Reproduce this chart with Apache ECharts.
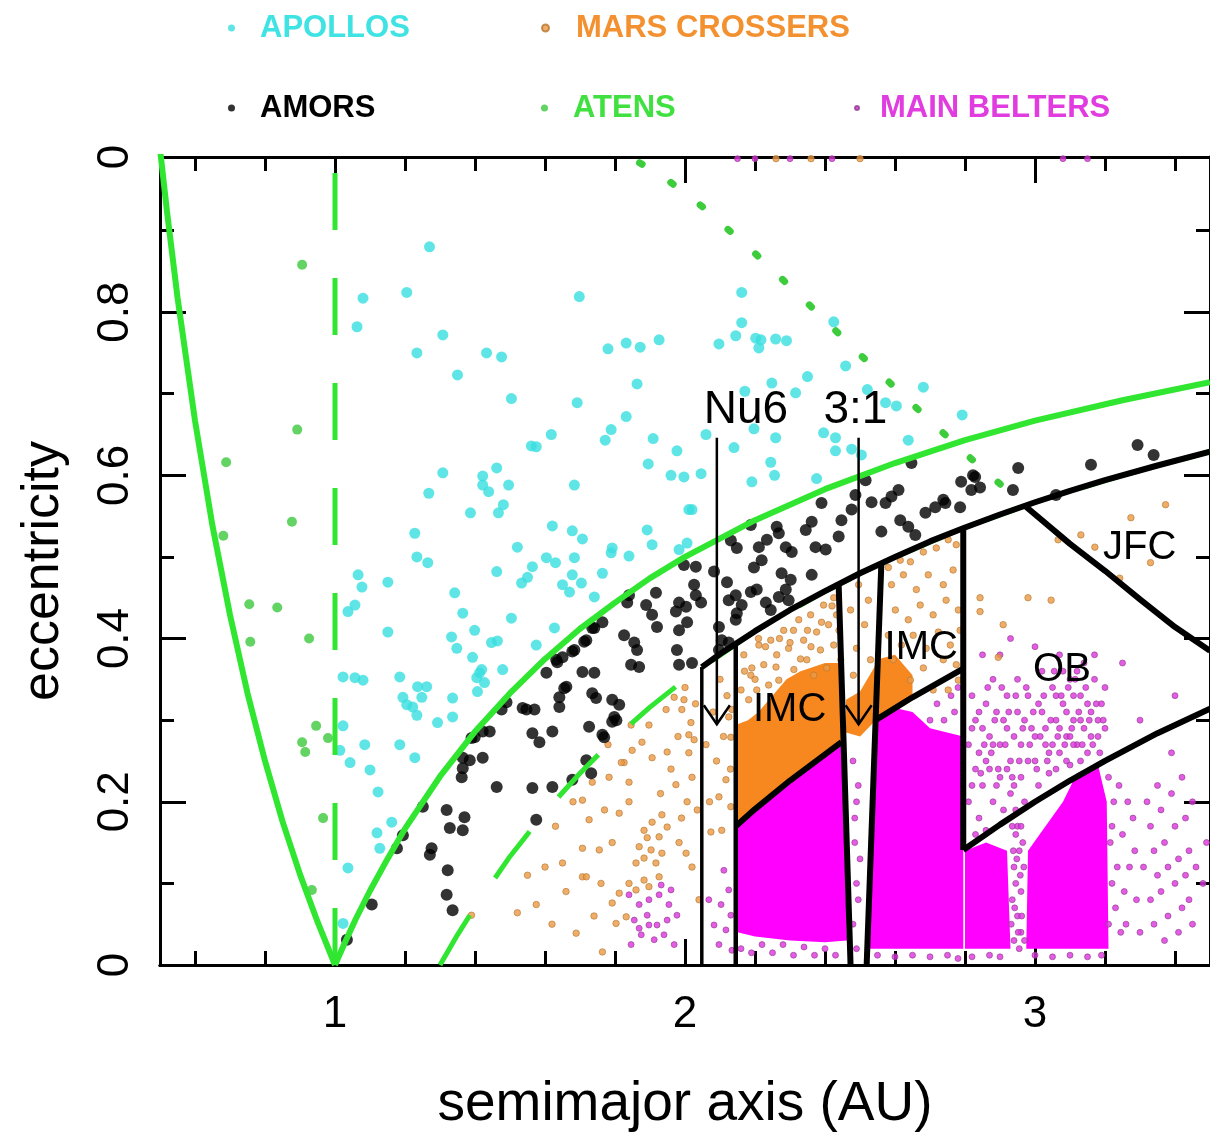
<!DOCTYPE html>
<html>
<head>
<meta charset="utf-8">
<script src="https://cdn.jsdelivr.net/npm/echarts@6/dist/echarts.min.js"></script>
<style>
  html, body { margin: 0; padding: 0; background: #fff; }
  #chart { width: 1210px; height: 1140px; }
</style>
</head>
<body>
<div id="chart"></div>
<script>
// axis ticks and labels
const xMajorTicks = [1, 2, 3]
const xMinorTicks = [0.6, 0.8, 1.2, 1.4, 1.6, 1.8, 2.2, 2.4, 2.6, 2.8, 3.2, 3.4]
const xTickLabels = ['1', '2', '3']
const yMajorTicks = [0, 0.2, 0.4, 0.6, 0.8]
const yMinorTicks = [0.1, 0.3, 0.5, 0.7, 0.9]
const yLabelValues = [0, 0.2, 0.4, 0.6, 0.8, 0.99]
const yTickLabels = ['0', '0.2', '0.4', '0.6', '0.8', '0']

// [semimajor axis, eccentricity]
const apollos = [
  [1.27,0.88],[1.08,0.817],[1.205,0.824],[1.063,0.782],[1.308,0.772],[1.234,0.75],[1.433,0.75],[1.476,0.745],[1.35,0.723],[1.698,0.819],
  [1.78,0.755],[1.832,0.762],[1.872,0.757],[1.926,0.766],[1.863,0.712],[1.504,0.694],[1.692,0.689],[1.832,0.672],[1.789,0.656],[1.772,0.643],
  [1.909,0.645],[1.977,0.63],[1.618,0.65],[1.561,0.636],[1.575,0.635],[1.308,0.603],[1.268,0.578],[1.462,0.609],[1.422,0.599],[1.422,0.588],
  [1.439,0.58],[1.496,0.588],[1.481,0.564],[1.467,0.554],[1.387,0.554],[1.684,0.588],[1.895,0.614],[1.96,0.6],[1.997,0.598],[2.02,0.558],
  [1.228,0.529],[1.621,0.538],[1.678,0.532],[1.707,0.522],[1.892,0.533],[1.906,0.515],[1.521,0.512],[1.792,0.511],[2.006,0.517],
  [2.162,0.824],[2.162,0.787],[2.145,0.771],[2.097,0.761],[2.202,0.768],[2.217,0.766],[2.211,0.756],[2.259,0.767],[2.29,0.765],[2.425,0.788],
  [2.459,0.734],[2.35,0.721],[2.248,0.713],[2.171,0.703],[2.316,0.701],[2.521,0.705],[2.681,0.708],[2.573,0.689],[2.604,0.685],[2.792,0.674],
  [2.046,0.602],[2.06,0.65],[2.14,0.634],[2.197,0.657],[2.259,0.646],[2.245,0.616],[2.256,0.6],[2.191,0.592],[2.376,0.596],[2.396,0.652],
  [2.43,0.646],[2.43,0.63],[2.476,0.632],[2.504,0.625],[2.638,0.643],[2.011,0.558],[1.789,0.505],[1.84,0.501],[1.234,0.5],[1.265,0.493],
  [1.066,0.478],[1.077,0.463],[1.057,0.441],[1.037,0.433],[1.151,0.469],[1.342,0.456],[1.365,0.431],[1.399,0.41],[1.462,0.482],[1.447,0.395],
  [1.564,0.488],[1.604,0.499],[1.63,0.493],[1.684,0.499],[1.678,0.478],[1.704,0.468],[1.65,0.466],[1.67,0.457],[1.55,0.475],[1.533,0.468],
  [1.764,0.48],[1.741,0.451],[1.504,0.425],[1.333,0.402],[1.348,0.388],[1.393,0.377],[1.419,0.362],[1.405,0.352],[1.427,0.346],[1.479,0.362],
  [1.575,0.392],[1.151,0.408],[1.023,0.353],[1.057,0.352],[1.08,0.349],[1.185,0.353],[1.194,0.328],[1.236,0.341],[1.248,0.328],[1.222,0.316],
  [1.234,0.306],[1.293,0.297],[1.336,0.327],[1.336,0.304],[1.023,0.293],[1.085,0.27],[1.185,0.27],[1.228,0.254],[1.1,0.239],[1.043,0.248],
  [1.983,0.509],[1.464,0.397],[1.627,0.413],[1.262,0.341],[1.205,0.319],[1.413,0.358],[1.407,0.335],[1.014,0.263],[1.123,0.212],[1.162,0.175],
  [1.12,0.162],[1.128,0.143],[1.037,0.119],[1.023,0.051]
]

const amors = [
  [1.034,0.031],[1.105,0.074],[1.177,0.143],[1.194,0.159],[1.251,0.194],[1.276,0.143],[1.271,0.135],[1.319,0.19],[1.328,0.168],[1.37,0.181],
  [1.365,0.165],[1.322,0.116],[1.319,0.086],[1.336,0.067],[1.362,0.23],[1.365,0.254],[1.385,0.251],[1.422,0.254],[1.39,0.278],[1.422,0.286],
  [1.442,0.286],[1.462,0.218],[1.476,0.313],[1.49,0.322],[1.547,0.313],[1.57,0.313],[1.564,0.284],[1.584,0.273],[1.621,0.286],[1.564,0.217],
  [1.621,0.218],[1.575,0.178],[1.678,0.227],[1.718,0.251],[1.726,0.292],[1.604,0.358],[1.632,0.374],[1.655,0.339],[1.641,0.328],[1.641,0.316],
  [1.678,0.384],[1.707,0.359],[1.712,0.396],[1.735,0.413],[1.741,0.358],[1.735,0.333],[1.997,0.49],[2.031,0.488],[2.083,0.482],[2.026,0.466],
  [2.031,0.453],[2.046,0.444],[1.983,0.444],[1.974,0.433],[2.006,0.42],[1.983,0.41],[1.977,0.386],[1.983,0.368],[2.02,0.37],[1.917,0.456],
  [1.889,0.441],[1.906,0.429],[1.92,0.414],[1.84,0.453],[1.835,0.444],[1.826,0.404],[1.855,0.395],[1.863,0.386],[1.846,0.368],[1.869,0.365],
  [1.764,0.42],[1.741,0.413],[1.718,0.398],[1.684,0.386],[1.65,0.377],[1.635,0.371],[1.661,0.341],[1.746,0.327],[1.792,0.325],[1.812,0.319],
  [1.798,0.304],[1.792,0.298],[1.764,0.282],[1.536,0.315],[1.399,0.279],[1.365,0.241],[1.732,0.235],[1.804,0.3],[1.769,0.279],
  [2.12,0.469],[2.131,0.52],[2.148,0.511],[2.188,0.539],[2.211,0.512],[2.234,0.521],[2.262,0.537],[2.268,0.529],[2.197,0.487],[2.219,0.496],
  [2.288,0.512],[2.305,0.506],[2.345,0.533],[2.362,0.543],[2.39,0.566],[2.373,0.512],[2.402,0.509],[2.439,0.525],[2.447,0.545],[2.476,0.558],
  [2.487,0.576],[2.516,0.594],[2.533,0.567],[2.573,0.566],[2.59,0.574],[2.61,0.582],[2.561,0.531],[2.615,0.545],[2.638,0.537],[2.658,0.527],
  [2.647,0.615],[2.687,0.554],[2.715,0.561],[2.738,0.57],[2.786,0.561],[2.789,0.592],[2.818,0.582],[2.823,0.6],[2.003,0.439],[2.125,0.447],
  [2.145,0.453],[2.162,0.441],[2.148,0.431],[2.188,0.457],[2.205,0.46],[2.231,0.444],[2.245,0.435],[2.268,0.451],[2.288,0.46],[2.302,0.472],
  [2.362,0.478],[2.276,0.48],[2.296,0.447],[2.097,0.414],[2.105,0.398],[2.145,0.423],[2.125,0.395],[2.097,0.386],
  [2.829,0.598],[2.843,0.585],[2.744,0.566],[2.952,0.609],[2.937,0.582],[3.06,0.576],[3.16,0.613],[3.293,0.637],[3.339,0.625]
]

const atens = [
  [0.689,0.616],[0.681,0.526],[0.755,0.442],[0.758,0.396],[0.835,0.438],[0.877,0.543],[0.892,0.656],[0.906,0.858],
  [0.926,0.4],[0.946,0.293],[0.906,0.273],[0.915,0.261],[0.966,0.18],[0.934,0.092],[0.98,0.278]
]

const marsCrossers = [
  [1.39,0.061],[1.521,0.064],[1.575,0.074],[1.65,0.125],[1.689,0.039],[1.707,0.108],[1.707,0.143],[1.707,0.202],[1.735,0.224],[1.726,0.178],
  [1.826,0.248],[1.849,0.263],[1.897,0.294],[1.946,0.313],[1.969,0.328],[2.017,0.297],[1.877,0.273],[1.906,0.254],[1.949,0.261],[2.011,0.26],
  [1.846,0.294],[1.991,0.313],[2.011,0.282],[1.818,0.248],[1.783,0.23],[1.84,0.224],[1.974,0.221],[2.006,0.2],[1.812,0.186],[1.84,0.2],
  [1.6,0.12],[1.63,0.17],[1.66,0.09],[1.68,0.2],[1.62,0.05],[1.74,0.06],[1.77,0.19],[1.76,0.1],[1.55,0.11],[1.78,0.27],
  [1.99,0.18],[2.02,0.23],[2.03,0.32],[1.96,0.24],[2.0,0.34],[2.035,0.19],[2.02,0.12],[2.04,0.08],[1.98,0.28],[1.93,0.21],
  [1.883,0.165],[1.934,0.184],[1.906,0.175],[1.949,0.169],[1.926,0.157],[1.892,0.156],[1.869,0.145],[1.903,0.141],[1.934,0.137],[1.883,0.131],
  [1.86,0.125],[1.917,0.125],[1.926,0.108],[1.883,0.104],[1.84,0.1],[1.812,0.088],[1.86,0.092],[1.897,0.096],[1.792,0.15],[1.755,0.141],
  [1.718,0.108],[1.832,0.059],[1.803,0.051],[1.764,0.016],[1.792,0.076],[1.983,0.15],[2.003,0.137],
  [2.105,0.165],[2.131,0.194],[2.097,0.206],[2.117,0.227],[2.074,0.163],[2.131,0.279],[2.125,0.304],[2.134,0.313],[1.997,0.325],[2.026,0.276],
  [2.07,0.2],[2.09,0.25],[2.12,0.33],[2.08,0.31],[2.11,0.28],[2.13,0.24],[2.06,0.27],[2.1,0.35],
  [2.191,0.364],[2.168,0.38],[2.188,0.355],[2.211,0.392],[2.225,0.368],[2.245,0.398],[2.262,0.38],[2.282,0.41],[2.296,0.388],[2.325,0.423],
  [2.339,0.398],[2.359,0.429],[2.376,0.408],[2.396,0.441],[2.41,0.417],[2.425,0.45],[2.433,0.429],[2.16,0.337],[2.182,0.325],[2.205,0.337],
  [2.239,0.343],[2.268,0.349],[2.311,0.362],[2.348,0.374],[2.387,0.386],[2.425,0.392],[2.445,0.374],[2.368,0.355],[2.405,0.364],
  [2.17,0.36],[2.2,0.35],[2.23,0.39],[2.27,0.4],[2.31,0.41],[2.35,0.41],[2.39,0.42],[2.42,0.44],[2.21,0.4],[2.3,0.395],[2.36,0.39],[2.44,0.41],[2.26,0.365],[2.33,0.375],
  [2.473,0.435],[2.513,0.417],[2.49,0.388],[2.53,0.374],[2.481,0.355],[2.524,0.447],[2.496,0.466],
  [2.581,0.487],[2.615,0.496],[2.644,0.494],[2.681,0.506],[2.718,0.511],[2.752,0.521],[2.775,0.515],[2.59,0.466],[2.624,0.478],[2.661,0.46],
  [2.695,0.478],[2.738,0.466],[2.766,0.484],[2.601,0.435],[2.638,0.423],[2.672,0.441],[2.709,0.429],[2.746,0.447],[2.781,0.435],[2.581,0.404],
  [2.618,0.392],[2.652,0.404],[2.689,0.388],[2.724,0.408],[2.758,0.392],[2.786,0.41],[2.595,0.374],[2.681,0.364],[2.738,0.374],[2.775,0.368],
  [2.709,0.337],[2.752,0.337],[2.781,0.349],[2.644,0.349],
  [3.131,0.527],[3.274,0.548],[3.373,0.564],[2.843,0.45],[2.843,0.433],[2.98,0.45],[3.046,0.447],[2.909,0.417],[2.895,0.377],[3.33,0.493],
  [3.242,0.474],[3.171,0.512],[3.066,0.521],
  [2.26,0.988],[2.36,0.988],[2.5,0.988]
]

const mainBelters = [
  [1.84,0.086],[1.869,0.074],[1.897,0.08],[1.926,0.086],[1.954,0.074],[1.855,0.055],[1.892,0.061],[1.92,0.049],[1.949,0.055],[1.977,0.061],
  [1.875,0.037],[1.912,0.031],[1.94,0.037],[1.969,0.025],[1.846,0.025],[1.932,0.098],[1.96,0.092],[1.897,0.049],[1.869,0.045],
  [2.111,0.116],[2.125,0.092],[2.103,0.074],[2.131,0.061],[2.117,0.043],[2.097,0.025],[2.134,0.018],[2.083,0.049],[2.068,0.08],
  [2.16,0.02],[2.19,0.015],[2.22,0.025],[2.25,0.015],[2.28,0.025],[2.31,0.012],[2.34,0.022],[2.37,0.012],[2.4,0.02],[2.43,0.012],
  [2.48,0.05],[2.49,0.1],[2.485,0.15],[2.49,0.2],[2.48,0.25],[2.495,0.08],[2.49,0.02],[2.5,0.13],[2.485,0.18],[2.495,0.22],
  [2.72,0.32],[2.76,0.33],[2.78,0.34],[2.74,0.3],[2.77,0.31],[2.7,0.3],
  [2.55,0.012],[2.6,0.01],[2.65,0.012],[2.7,0.01],[2.75,0.012],[2.78,0.008],
  [2.83,0.3],[2.84,0.26],[2.85,0.22],[2.84,0.18],[2.86,0.32],[2.87,0.28],[2.87,0.24],[2.88,0.2],[2.86,0.165],[2.89,0.31],
  [2.9,0.27],[2.9,0.23],[2.91,0.19],[2.92,0.33],[2.92,0.29],[2.93,0.25],[2.93,0.21],[2.95,0.31],[2.96,0.27],[2.96,0.23],
  [2.97,0.2],[2.98,0.33],[2.99,0.29],[3.0,0.25],[3.01,0.22],[3.02,0.31],[3.03,0.27],[3.04,0.235],[3.05,0.34],[3.06,0.3],
  [3.07,0.26],[3.08,0.32],[3.09,0.28],[3.1,0.245],[3.1,0.35],[3.11,0.3],[3.12,0.27],[3.13,0.33],[3.14,0.29],[3.15,0.26],
  [3.16,0.31],[3.17,0.35],[3.18,0.28],[3.19,0.32],[3.12,0.36],[3.08,0.36],[2.88,0.35],[2.95,0.35],[3.02,0.36],[2.82,0.22],
  [2.83,0.16],[2.85,0.38],[3.0,0.39],[3.17,0.38],[3.25,0.37],[2.93,0.4],
  [2.81,0.27],[2.82,0.33],[2.83,0.24],[2.85,0.29],[2.86,0.25],[2.88,0.27],[2.89,0.22],[2.91,0.3],[2.92,0.24],[2.94,0.28],
  [2.94,0.22],[2.97,0.3],[2.98,0.25],[3.0,0.28],[3.01,0.32],[3.03,0.29],[3.04,0.26],[3.06,0.33],[3.06,0.24],[3.07,0.29],
  [3.09,0.31],[3.09,0.25],[3.11,0.33],[3.11,0.27],[3.13,0.3],[3.13,0.25],[3.15,0.32],[3.16,0.28],[3.18,0.3],[3.2,0.29],
  [3.1,0.28],[3.05,0.27],
  [2.81,0.2],[2.82,0.29],[2.84,0.31],[2.845,0.235],[2.855,0.27],[2.865,0.34],[2.875,0.26],[2.885,0.3],[2.895,0.24],[2.905,0.34],
  [2.915,0.27],[2.925,0.31],[2.935,0.23],[2.945,0.33],[2.955,0.25],[2.965,0.29],[2.975,0.34],[2.985,0.27],[2.995,0.31],[3.005,0.24],
  [3.015,0.28],[3.025,0.33],[3.035,0.25],[3.045,0.3],[3.055,0.36],[3.065,0.28],[3.075,0.33],[3.085,0.27],[3.095,0.34],[3.105,0.29],
  [3.115,0.35],[3.125,0.31],[3.135,0.27],[3.145,0.34],[3.155,0.3],[3.165,0.27],[3.175,0.32],[3.185,0.26],[3.195,0.3],[3.14,0.37],
  [3.07,0.38],[2.9,0.38],[3.2,0.34],
  [2.94,0.03],[2.95,0.06],[2.945,0.1],[2.955,0.14],[2.95,0.17],[2.96,0.04],[2.94,0.12],[2.96,0.09],[2.955,0.02],[2.935,0.08],[2.965,0.15],[2.945,0.16],
  [2.932,0.05],[2.938,0.14],[2.942,0.07],[2.948,0.13],[2.952,0.04],[2.958,0.11],[2.962,0.06],[2.968,0.12],[2.97,0.03],[2.935,0.17],[2.96,0.17],[2.945,0.19],
  [2.82,0.01],[2.87,0.012],[2.9,0.01],[3.0,0.012],[3.05,0.01],[3.1,0.012],[3.15,0.01],[3.19,0.012],
  [3.21,0.05],[3.22,0.1],[3.215,0.15],[3.225,0.2],[3.21,0.23],[3.23,0.07],[3.22,0.17],[3.26,0.05],[3.27,0.12],[3.28,0.18],
  [3.235,0.12],[3.245,0.04],[3.25,0.16],[3.24,0.22],[3.255,0.09],[3.265,0.2],[3.29,0.08],[3.285,0.14],[3.3,0.04],
  [3.32,0.2],[3.33,0.17],[3.34,0.14],[3.35,0.11],[3.33,0.08],[3.34,0.05],[3.36,0.19],[3.37,0.15],[3.38,0.12],[3.36,0.09],
  [3.38,0.06],[3.39,0.21],[3.4,0.17],[3.41,0.13],[3.4,0.1],[3.42,0.07],[3.41,0.04],[3.43,0.18],[3.44,0.14],[3.43,0.11],
  [3.44,0.08],[3.45,0.05],[3.35,0.22],[3.42,0.23],[3.37,0.03],[3.31,0.12],[3.46,0.12],[3.39,0.26],[3.45,0.2],[3.48,0.1],
  [3.49,0.15],[3.3,0.3],[3.4,0.33],
  [2.15,0.988],[2.2,0.988],[2.3,0.988],[2.42,0.988],[3.08,0.988],[3.15,0.988]
]

// outlines of the solidly packed parts of the clouds
const beltDenseAreas = [
  [[2.15,0.172],[2.3,0.227],[2.447,0.273],[2.463,0.03],[2.4,0.028],[2.3,0.03],[2.2,0.035],[2.15,0.04]],
  [[2.528,0.02],[2.545,0.3],[2.6,0.315],[2.65,0.31],[2.7,0.29],[2.795,0.28],[2.795,0.02]],
  [[2.8,0.02],[2.8,0.14],[2.86,0.15],[2.92,0.14],[2.93,0.02]],
  [[2.975,0.02],[2.98,0.14],[3.03,0.17],[3.08,0.2],[3.12,0.235],[3.18,0.245],[3.205,0.2],[3.21,0.02]]
]
const crosserDenseAreas = [
  [[2.15,0.172],[2.3,0.227],[2.447,0.273],[2.443,0.37],[2.4,0.37],[2.33,0.36],[2.29,0.35],[2.25,0.33],[2.21,0.31],[2.18,0.3],[2.15,0.295]],
  [[2.46,0.285],[2.46,0.325],[2.5,0.335],[2.555,0.375],[2.6,0.38],[2.65,0.355],[2.65,0.33],[2.6,0.316],[2.545,0.3],[2.5,0.28]]
]

// boundary curves
const qOneLeft = [[0.5,1.0],[0.52,0.923],[0.55,0.818],[0.6,0.667],[0.65,0.538],[0.7,0.429],[0.75,0.333],[0.8,0.25],[0.85,0.176],[0.9,0.111],[0.95,0.053],[1.0,0]]
const qOneRight = [[1.0,0],[1.03,0.029],[1.06,0.057],[1.1,0.091],[1.15,0.13],[1.2,0.167],[1.3,0.231],[1.4,0.286],[1.5,0.333],[1.6,0.375],[1.7,0.412],[1.8,0.444],[1.9,0.474],[2.0,0.5],[2.2,0.545],[2.4,0.583],[2.6,0.615],[2.8,0.643],[3.0,0.667],[3.25,0.692],[3.5,0.714]]
const aOneLine = [[1,0],[1,1]]
const qAmorLimit = [[1.3,0],[1.35,0.037],[1.4,0.071],[1.5,0.133],[1.6,0.1875],[1.7,0.235],[1.8,0.278],[1.9,0.316],[2.0,0.35],[2.2,0.409],[2.4,0.458],[2.6,0.5],[2.8,0.536],[3.0,0.567],[3.25,0.6],[3.5,0.629]]
const tisserandDotted = [[1.87,0.983],[1.95,0.962],[2.05,0.929],[2.2,0.872],[2.35,0.811],[2.5,0.748],[2.65,0.687],[2.8,0.627],[2.97,0.563]]

const nu6Edge = [[2.048,0],[2.048,0.365]]
const imcEdge = [[2.145,0],[2.145,0.394]]
const qAmorBlack = [[2.048,0.365],[2.1,0.381],[2.2,0.409],[2.3,0.435],[2.4,0.458],[2.5,0.48],[2.6,0.5],[2.7,0.519],[2.8,0.536],[2.9,0.552],[3.0,0.567],[3.1,0.581],[3.2,0.594],[3.35,0.612],[3.5,0.629]]
const imcFloorInner = [[2.145,0.17],[2.2,0.191],[2.3,0.226],[2.447,0.273]]
const imcFloorOuter = [[2.548,0.301],[2.65,0.328],[2.795,0.363]]
const resonanceLeft = [[2.439,0.467],[2.473,0]]
const resonanceRight = [[2.519,0],[2.561,0.492]]
const obEdge = [[2.795,0.141],[2.795,0.535]]
const obFloor = [[2.795,0.141],[2.9,0.172],[3.0,0.2],[3.1,0.226],[3.2,0.25],[3.35,0.284],[3.5,0.314]]
const jfcEdge = [[2.97,0.563],[3.1,0.516],[3.2,0.483],[3.3,0.448],[3.4,0.414],[3.5,0.385]]

// annotations: [text, a, e top, e tip]
const arrowMarks = [['Nu6', 2.091, 0.646, 0.295], ['3:1', 2.496, 0.646, 0.295]]
// [text, a, e]
const regionLabels = [['Nu6', 2.174, 0.68], ['3:1', 2.487, 0.68], ['IMC', 2.299, 0.3125], ['IMC', 2.675, 0.388], ['OB', 3.077, 0.361], ['JFC', 3.299, 0.511]]

const FONT = "'Liberation Sans', Arial, sans-serif"
const GREEN = '#30e630'

function xAxisDef(position, ticks, tickLen, withLabels) {
  return {
    type: 'value', min: 0.5, max: 3.5, position: position,
    name: withLabels ? 'semimajor axis (AU)' : '',
    nameLocation: 'middle', nameGap: 112,
    nameTextStyle: { fontFamily: FONT, fontSize: 55, color: '#000' },
    axisLine: { show: true, onZero: false, lineStyle: { color: '#000', width: 3 } },
    axisTick: { show: true, inside: true, length: tickLen, customValues: ticks, lineStyle: { color: '#000', width: 3 } },
    axisLabel: withLabels ? {
      show: true, customValues: xMajorTicks, margin: 28,
      fontFamily: FONT, fontSize: 44, color: '#000',
      formatter: v => xTickLabels[xMajorTicks.indexOf(v)]
    } : { show: false },
    splitLine: { show: false }
  }
}

function yAxisDef(position, ticks, tickLen, withLabels) {
  return {
    type: 'value', min: 0, max: 0.99, position: position,
    name: withLabels ? 'eccentricity' : '',
    nameLocation: 'middle', nameGap: 90,
    nameTextStyle: { fontFamily: FONT, fontSize: 52, color: '#000', padding: [0, 20, 0, 0] },
    axisLine: { show: true, onZero: false, lineStyle: { color: '#000', width: 3 } },
    axisTick: { show: true, inside: true, length: tickLen, customValues: ticks, lineStyle: { color: '#000', width: 3 } },
    axisLabel: withLabels ? {
      show: true, customValues: yLabelValues, margin: 22, rotate: 90,
      fontFamily: FONT, fontSize: 44, color: '#000',
      formatter: v => yTickLabels[yLabelValues.indexOf(v)]
    } : { show: false },
    splitLine: { show: false }
  }
}

function curve(data, color, width, type, z) {
  return {
    type: 'line', data: data, symbol: 'none', silent: true, z: z || 5,
    lineStyle: { color: color, width: width, type: type || 'solid', cap: 'butt' }
  }
}

function polygons(name, areas, color) {
  return {
    type: 'custom', name: name, coordinateSystem: 'cartesian2d', clip: true, silent: true, z: 1,
    data: areas.map((p, i) => [p[0][0], p[0][1], i]),
    renderItem: (params, api) => ({
      type: 'polygon',
      shape: { points: areas[params.dataIndex].map(p => api.coord(p)) },
      style: { fill: color }
    })
  }
}

function legendDef(name, color, left, top, itemWidth, itemHeight) {
  return {
    data: [{ name: name, textStyle: { color: color } }],
    left: left, top: top, padding: 0, selectedMode: false,
    icon: 'circle', itemWidth: itemWidth, itemHeight: itemHeight || 7,
    textStyle: { fontFamily: FONT, fontWeight: 'bold', fontSize: 31, lineHeight: 36 }
  }
}

const chart = echarts.init(document.getElementById('chart'))

chart.setOption({
  animation: false,
  backgroundColor: '#fff',
  grid: { left: 160, top: 157, width: 1053, height: 808 },
  legend: [
    legendDef('APOLLOS', '#3fe3e3', 228, 10, 47),
    legendDef('MARS CROSSERS', '#f39131', 541, 10, 51),
    legendDef('AMORS', '#000', 228, 90, 47),
    legendDef('ATENS', '#3fe03f', 541, 90, 47),
    legendDef('MAIN BELTERS', '#e03ce0', 854, 90, 36, 4)
  ],
  xAxis: [
    xAxisDef('bottom', xMajorTicks, 26, true),
    xAxisDef('bottom', xMinorTicks, 14, false),
    xAxisDef('top', xMajorTicks, 26, false),
    xAxisDef('top', xMinorTicks, 14, false)
  ],
  yAxis: [
    yAxisDef('left', yMajorTicks, 26, true),
    yAxisDef('left', yMinorTicks, 14, false),
    yAxisDef('right', yMajorTicks, 26, false),
    yAxisDef('right', yMinorTicks, 14, false)
  ],
  series: [
    polygons('belt dense', beltDenseAreas, '#ff00ff'),
    polygons('crosser dense', crosserDenseAreas, '#f7871f'),
    {
      name: 'MAIN BELTERS', type: 'scatter', data: mainBelters, symbolSize: 6, z: 2,
      itemStyle: { color: '#dd33dd', borderColor: '#8f3a8f', borderWidth: 0.8 }
    },
    {
      name: 'MARS CROSSERS', type: 'scatter', data: marsCrossers, symbolSize: 6.5, z: 2,
      itemStyle: { color: '#eb9845', borderColor: '#b5772f', borderWidth: 0.8 }
    },
    { name: 'APOLLOS', type: 'scatter', data: apollos, symbolSize: 11, z: 3, itemStyle: { color: '#38dfe0' } },
    { name: 'AMORS', type: 'scatter', data: amors, symbolSize: 12, z: 3, itemStyle: { color: '#000' } },
    { name: 'ATENS', type: 'scatter', data: atens, symbolSize: 10, z: 3, itemStyle: { color: '#3cc83c' } },

    curve(qOneLeft, GREEN, 6),
    curve(qOneRight, GREEN, 6),
    curve(aOneLine, GREEN, 5, [57, 48]),
    curve(qAmorLimit, GREEN, 5, [58, 45]),
    {
      type: 'line', data: tisserandDotted, symbol: 'none', silent: true, z: 5,
      lineStyle: { color: '#3ccc3c', width: 7, type: [3, 34], cap: 'round' }
    },

    curve(nu6Edge, '#000', 3.5, 'solid', 6),
    curve(imcEdge, '#000', 4.5, 'solid', 6),
    curve(qAmorBlack, '#000', 6, 'solid', 6),
    curve(imcFloorInner, '#000', 6, 'solid', 6),
    curve(imcFloorOuter, '#000', 6, 'solid', 6),
    curve(resonanceLeft, '#000', 6, 'solid', 6),
    curve(resonanceRight, '#000', 6, 'solid', 6),
    curve(obEdge, '#000', 6, 'solid', 6),
    curve(obFloor, '#000', 6, 'solid', 6),
    curve(jfcEdge, '#000', 6, 'solid', 6),

    {
      type: 'custom', name: 'arrows', coordinateSystem: 'cartesian2d', silent: true, z: 7,
      data: arrowMarks.map(m => [m[1], m[2], m[3]]),
      renderItem: (params, api) => {
        const top = api.coord([api.value(0), api.value(1)])
        const tip = api.coord([api.value(0), api.value(2)])
        const st = { stroke: '#000', lineWidth: 2.5, fill: null }
        return {
          type: 'group',
          children: [
            { type: 'line', shape: { x1: top[0], y1: top[1], x2: tip[0], y2: tip[1] }, style: st },
            { type: 'polyline', shape: { points: [[tip[0] - 13, tip[1] - 19], [tip[0], tip[1]], [tip[0] + 13, tip[1] - 19]] }, style: st }
          ]
        }
      }
    },
    {
      type: 'custom', name: 'labels', coordinateSystem: 'cartesian2d', silent: true, z: 8,
      data: regionLabels.map(l => [l[1], l[2]]),
      renderItem: (params, api) => {
        const p = api.coord([api.value(0), api.value(1)])
        const txt = regionLabels[params.dataIndex][0]
        const big = txt === 'Nu6' || txt === '3:1'
        return {
          type: 'text', x: p[0], y: p[1],
          style: {
            text: txt, fill: '#000', align: 'center', verticalAlign: 'middle',
            font: (big ? 46 : 40) + "px " + FONT
          }
        }
      }
    }
  ]
})
</script>
</body>
</html>
